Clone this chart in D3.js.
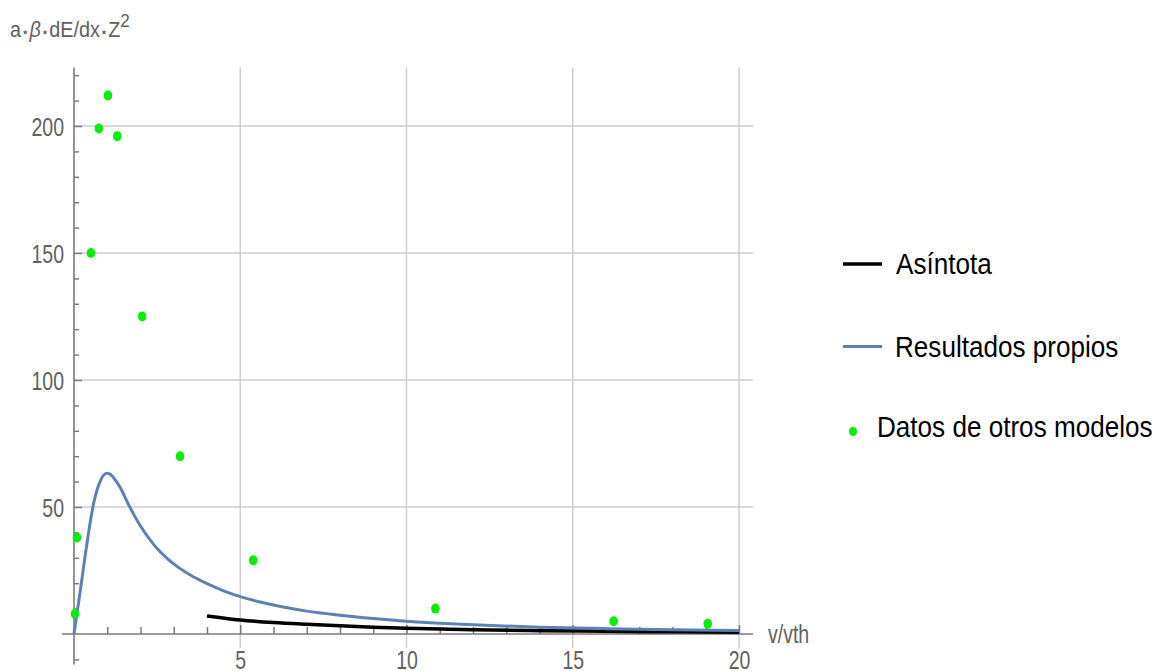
<!DOCTYPE html>
<html>
<head>
<meta charset="utf-8">
<script src="https://cdn.jsdelivr.net/npm/d3@7"></script>
<style>
  html, body { margin: 0; padding: 0; background: #fff; }
  svg { display: block; font-family: "Liberation Sans", Arial, sans-serif; }
</style>
</head>
<body>
<svg id="chart" width="1159" height="671"></svg>
<script>
// ---- data ----
const propiosX = [0, 0.1, 0.2, 0.3, 0.4, 0.5, 0.6, 0.7, 0.8, 0.9, 1.0, 1.1, 1.2, 1.4, 1.6, 1.8, 2.0, 2.2, 2.4, 2.6, 2.8, 3.0, 3.5, 4.0, 4.5, 5.0, 5.5, 6.0, 6.5, 7, 8, 9, 10, 11, 12, 14, 16, 18, 20];
const propiosY = [0, 9, 18, 27.5, 36.5, 45, 52, 57, 60.5, 62.7, 63.3, 62.8, 61.3, 57.5, 52, 47, 42.5, 38.6, 35.2, 32.3, 29.8, 27.6, 23.2, 19.8, 17.0, 14.7, 12.9, 11.4, 10.1, 9.0, 7.4, 6.1, 5.0, 4.2, 3.6, 2.7, 2.1, 1.7, 1.4];
const asintotaX = [4, 5, 6, 7, 8, 9, 10, 12, 14, 16, 18, 20];
const asintotaY = [7.1, 5.5, 4.5, 3.8, 3.2, 2.7, 2.3, 1.7, 1.3, 1.05, 0.85, 0.7];
const modelosX = [0.03, 0.09, 0.51, 0.75, 1.02, 1.3, 2.05, 3.19, 5.39, 10.87, 16.23, 19.06];
const modelosY = [8, 38, 150, 199, 212, 196, 125, 70, 29, 10, 5, 4];
const xMajorTicks = [5, 10, 15, 20];
const yMajorTicks = [50, 100, 150, 200];
const legendLabels = ["Asíntota", "Resultados propios", "Datos de otros modelos"];

// ---- scales ----
const svg = d3.select("#chart");
const x = d3.scaleLinear().domain([0, 20]).range([74, 739]);
const y = d3.scaleLinear().domain([0, 200]).range([634, 126]);
const xMin = -0.36, xMax = 20.42, yMin = -12, yMax = 223;

const gridColor = "#cccccc";
const axisColor = "#7a7a7a";
const labelColor = "#606060";
const sxTick = 0.78;

// grid
svg.append("g").selectAll("line.v").data(xMajorTicks).join("line")
  .attr("x1", d => x(d)).attr("x2", d => x(d))
  .attr("y1", y(yMax)).attr("y2", y(0) + 14)
  .attr("stroke", gridColor).attr("stroke-width", 1.4);
svg.append("g").selectAll("line.h").data(yMajorTicks).join("line")
  .attr("x1", x(0)).attr("x2", x(xMax))
  .attr("y1", d => y(d)).attr("y2", d => y(d))
  .attr("stroke", gridColor).attr("stroke-width", 1.4);

// axis lines
svg.append("line").attr("x1", x(xMin)).attr("x2", x(xMax)).attr("y1", y(0)).attr("y2", y(0))
  .attr("stroke", axisColor).attr("stroke-width", 1.6);
svg.append("line").attr("x1", x(0)).attr("x2", x(0)).attr("y1", y(yMin)).attr("y2", y(yMax))
  .attr("stroke", axisColor).attr("stroke-width", 1.6);

// y axis ticks (inward)
const yMinor = d3.range(-10, 221, 10).filter(v => v !== 0 && !yMajorTicks.includes(v));
svg.append("g").attr("transform", `translate(${x(0)},0)`)
  .call(d3.axisLeft(y).tickValues(yMinor).tickSize(-5).tickFormat(""))
  .call(g => g.select(".domain").remove())
  .call(g => g.selectAll("line").attr("stroke", axisColor).attr("stroke-width", 1.5));
const yAx = svg.append("g").attr("transform", `translate(${x(0)},0)`)
  .call(d3.axisLeft(y).tickValues(yMajorTicks).tickSize(-8).tickPadding(10))
  .call(g => g.select(".domain").remove());
yAx.selectAll("line").attr("stroke", axisColor).attr("stroke-width", 1.5);
yAx.selectAll("text")
  .attr("fill", labelColor).attr("font-size", 25)
  .attr("font-family", "Liberation Sans, Arial, sans-serif")
  .attr("x", -10 / sxTick).attr("dy", "0.36em")
  .attr("transform", `scale(${sxTick},1)`);

// x axis ticks (inward, upward)
const xMinor = d3.range(1, 20, 1).filter(v => !xMajorTicks.includes(v));
svg.append("g").attr("transform", `translate(0,${y(0)})`)
  .call(d3.axisBottom(x).tickValues(xMinor).tickSize(-7).tickFormat(""))
  .call(g => g.select(".domain").remove())
  .call(g => g.selectAll("line").attr("stroke", axisColor).attr("stroke-width", 1.5));
const xAx = svg.append("g").attr("transform", `translate(0,${y(0)})`)
  .call(d3.axisBottom(x).tickValues(xMajorTicks).tickSize(-9).tickPadding(20))
  .call(g => g.select(".domain").remove());
xAx.selectAll("line").attr("stroke", axisColor).attr("stroke-width", 1.5);
xAx.selectAll("text")
  .attr("fill", labelColor).attr("font-size", 25)
  .attr("font-family", "Liberation Sans, Arial, sans-serif")
  .attr("y", 17).attr("dy", "0.72em")
  .attr("transform", `scale(${sxTick},1)`)
  .attr("x", 0)
  .attr("text-anchor", "middle");

// helper for horizontally condensed text
function condText(px, py, str, size, sx, anchor, color) {
  return svg.append("text")
    .attr("transform", `translate(${px},${py}) scale(${sx},1)`)
    .attr("font-size", size).attr("fill", color)
    .attr("text-anchor", anchor || "start")
    .text(str);
}

// axis titles
condText(768, 643, "v/vth", 25, sxTick, "start", labelColor);
const yt = svg.append("text")
  .attr("transform", `translate(10,37) scale(0.9,1)`)
  .attr("font-size", 22).attr("fill", labelColor);
yt.append("tspan").text("a");
yt.append("tspan").attr("font-size", 15).attr("font-family", "DejaVu Sans").text("⋆");
yt.append("tspan").attr("font-style", "italic").text("β");
yt.append("tspan").attr("font-size", 15).attr("font-family", "DejaVu Sans").text("⋆");
yt.append("tspan").text("dE/dx");
yt.append("tspan").attr("font-size", 15).attr("font-family", "DejaVu Sans").text("⋆");
yt.append("tspan").text("Z");
yt.append("tspan").attr("dy", -10).attr("font-size", 19).text("2");

// lines
const line = d3.line().x(d => x(d[0])).y(d => y(d[1])).curve(d3.curveMonotoneX);
const propios = propiosX.map((v, i) => [v, propiosY[i]]);
const asintota = asintotaX.map((v, i) => [v, asintotaY[i]]);

svg.append("path").datum(asintota).attr("d", line)
  .attr("fill", "none").attr("stroke", "#000").attr("stroke-width", 3.5);
svg.append("path").datum(propios).attr("d", line)
  .attr("fill", "none").attr("stroke", "#5e81b5").attr("stroke-width", 3);

// points
const green = "#00ee00";
svg.append("g").selectAll("ellipse").data(modelosX.map((v, i) => [v, modelosY[i]])).join("ellipse")
  .attr("cx", d => x(d[0])).attr("cy", d => y(d[1]))
  .attr("rx", 4.3).attr("ry", 5).attr("fill", green);

// legend
svg.append("line").attr("x1", 843).attr("x2", 882).attr("y1", 264).attr("y2", 264)
  .attr("stroke", "#000").attr("stroke-width", 3.5);
svg.append("line").attr("x1", 843).attr("x2", 882).attr("y1", 346.5).attr("y2", 346.5)
  .attr("stroke", "#5e81b5").attr("stroke-width", 3);
svg.append("ellipse").attr("cx", 853).attr("cy", 431.5).attr("rx", 4).attr("ry", 4.6).attr("fill", green);
condText(896, 273.5, legendLabels[0], 29, 0.9, "start", "#000");
condText(895, 357, legendLabels[1], 29, 0.9, "start", "#000");
condText(877, 437, legendLabels[2], 29, 0.9, "start", "#000");
</script>
</body>
</html>
